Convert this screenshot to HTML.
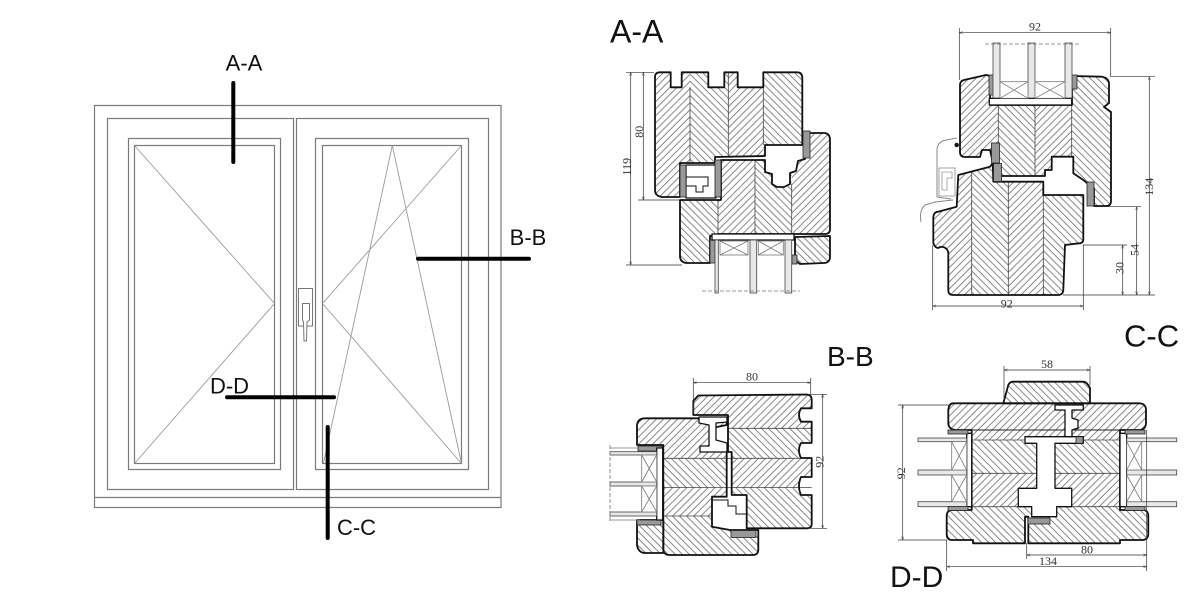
<!DOCTYPE html>
<html><head><meta charset="utf-8"><style>
html,body{margin:0;padding:0;background:#fff}
svg{display:block}
.o{fill:none;stroke:#111;stroke-width:1.8;stroke-linejoin:round}
.w{fill:#fff;stroke:#111;stroke-width:1.3;stroke-linejoin:round}
.lam{stroke:#444;stroke-width:0.8;fill:none}
.fr{fill:none;stroke:#7a7a7a;stroke-width:1.2}
.dg{fill:none;stroke:#9a9a9a;stroke-width:0.9}
.thk{stroke:#000;stroke-width:4;stroke-linecap:round}
.lb{font-family:"Liberation Sans",sans-serif;fill:#111}
.dm{stroke:#333;stroke-width:0.7;fill:none}
.dt{font-family:"Liberation Serif",serif;font-size:12px;fill:#333}
.gl{fill:#e8e8e8;stroke:#444;stroke-width:0.8}
.sp{fill:#fff;stroke:#777;stroke-width:0.8}
.sl{fill:#999;stroke:#222;stroke-width:0.8}
</style></head><body>
<svg width="1200" height="594" viewBox="0 0 1200 594" xmlns="http://www.w3.org/2000/svg">
<defs>
<pattern id="p1" patternUnits="userSpaceOnUse" width="5" height="5" patternTransform="rotate(45)"><rect width="5" height="5" fill="#fff"/><line x1="0.5" y1="0" x2="0.5" y2="5" stroke="#7a7a7a" stroke-width="0.9"/></pattern>
<pattern id="p2" patternUnits="userSpaceOnUse" width="5" height="5" patternTransform="rotate(-45)"><rect width="5" height="5" fill="#fff"/><line x1="0.5" y1="0" x2="0.5" y2="5" stroke="#7a7a7a" stroke-width="0.9"/></pattern>
<marker id="ar" viewBox="0 0 10 10" refX="10" refY="5" markerWidth="5" markerHeight="5" orient="auto-start-reverse"><path d="M0,1.5 L10,5 L0,8.5" fill="none" stroke="#333" stroke-width="1.2"/></marker>

<clipPath id="cAU"><path id="AU" d="M655,77 Q655,72.3 660,72.3 L670.7,72.3 L670.7,87.3 L681.7,87.3 L681.7,72.3 L708.3,72.3 L708.3,87.3 L724.3,87.3 L724.3,72.3 L737.7,72.3 L737.7,87.3 L763.3,87.3 L763.3,72.3 L797,72.3 Q802.3,72.3 802.3,78 L802.3,145 L765,145 L765,156 L715,157 L715,163 L680,163 L680,197 L662,197 Q655,196 655,190 Z"/></clipPath>
<clipPath id="cAS"><path id="AS" d="M680,200 L721,200 L721,160 L765,160 L765,172 L772,174 L772,184 L777,187 L784,187 L790,184 L790,173 L796,171 L798,161 L805,159 L805,140 Q806,133 812,133 L825,133 Q830,134 830,140 L830,229 Q830,234 825,234 L718,234 L710,236 L710,263 L686,263 Q680,262 680,256 Z"/></clipPath>
<clipPath id="cAB"><path id="AB" d="M795,237 L830,236 L830,258 Q829,263 824,263 L800,264 L795,260 Z"/></clipPath>

<clipPath id="cCS"><path id="CS" d="M960,85 Q960,81 964,80 L986,75 Q990,75 990,79 L990,105 L1072,105 L1072,76 L1102,76.7 Q1109,78 1109,84 L1109,103 L1104,107 L1111,112 L1111,201 Q1111,206 1106,206 L1094,206 L1094,188 L1087,183 L1083.3,180 L1073.3,173.3 L1073.3,156.7 L1051.7,156.7 L1051.7,170 L1045,170 L1045,176 L1000,176 L1000,165 L993,163 L990,150 L982,150 L980,157 L965,157 Q960,157 960,152 Z"/></clipPath>
<clipPath id="cCF"><path id="CF" d="M933.3,216.7 Q934,212 938,211.7 L956.7,206.7 L958.3,175 L990,166.7 L992.7,163.3 L993.3,181.7 L1043.3,181.7 L1043.3,195 L1083.3,195 L1083.3,240 Q1083,243.3 1079,243.3 L1065,245 L1063.3,290 Q1063,295 1058,295 L953,295 Q948.3,295 948.3,290 L948.3,252 Q946,246 940,247 Q936,250 933.3,243 Z"/></clipPath>

<clipPath id="cBF"><path id="BF" d="M693.3,401 L698.3,395.5 L807,394.5 Q811.7,395 811.7,400 L811.7,408.3 L801,408.3 Q797,415 801,421.7 L811.7,421.7 L811.7,443 L801,443 Q797,450 801,458 L811.7,458 L811.7,477 L801,477 Q797,486 801,495 L811.7,495 L811.7,524 Q811.7,528.3 807,528.3 L746.7,528.3 L746.7,495 L731.7,495 L731.7,452 L728,452 L728,415 L693.3,415 Z"/></clipPath>
<clipPath id="cBS"><path id="BS" d="M637,425 Q638,418.3 645,418.3 L726.7,418.3 L726.7,425 L712,428 L712,449 L726.7,449 L726.7,496.7 L712,496.7 L712,526.7 L730,530 L758.3,530 L758.3,550 Q758,555 753,555 L668,555 Q663.3,554 663.3,549 L663.3,445 L637,445 Z"/></clipPath>
<clipPath id="cBB"><path id="BB" d="M637,520 L663.3,520 L663.3,553 L644,553 Q638,552 637,545 Z"/></clipPath>

<clipPath id="cDB"><path id="DB" d="M953,403.3 L1140,403.3 Q1146,404 1146,410 L1146,424 Q1145,430 1139,430 L1120,430 L1120,510 L1144,510 Q1148.3,511 1148.3,516 L1148.3,534 Q1148,540 1142,540 L1120,540 L1120,543.3 L1028.3,543.3 L1028.3,516.7 L1025,516.7 L1025,543.3 L973,543.3 L973,540 L952,540 Q946.7,540 946.7,534 L946.7,516 Q947,510 952,510 L971.7,510 L971.7,430 L955,430 Q949,429 948.3,424 L948.3,410 Q949,403.3 953,403.3 Z"/></clipPath>
<clipPath id="cDC"><path id="DC" d="M1003.3,403.3 L1008.3,385 Q1010,381.7 1013,381.7 L1083,381.7 Q1087,381.7 1090,388 L1090,403.3 Z"/></clipPath>
</defs>

<!-- ============ LEFT WINDOW ELEVATION ============ -->
<rect x="94.5" y="105.5" width="406.5" height="402" class="fr"/>
<line x1="94.5" y1="497.5" x2="501" y2="497.5" class="fr"/>
<rect x="107.5" y="118.5" width="186" height="371" class="fr"/>
<rect x="296.5" y="118.5" width="192" height="371" class="fr"/>
<rect x="128.5" y="138.5" width="152" height="331" class="fr"/>
<rect x="134.5" y="145.5" width="140" height="318" class="fr"/>
<rect x="315.5" y="138.5" width="153" height="331" class="fr"/>
<rect x="322.5" y="145.5" width="139" height="318" class="fr"/>
<polyline points="134.5,145.5 274.5,303.5 134.5,463.5" class="dg"/>
<polyline points="461.5,145.5 322.5,303.5 461.5,463.5" class="dg"/>
<polyline points="323.5,463 392.3,145.5 461.5,463.5" class="dg"/>
<rect x="298.5" y="288.5" width="14" height="37.5" fill="#fff" stroke="#777" stroke-width="1"/>
<path d="M302.5,303.5 L309.5,303.5 L309.5,320 L307,322 L306.5,341 L304,341 L303.5,322 L302.5,320 Z" fill="#fff" stroke="#777" stroke-width="1"/>
<line x1="233.3" y1="83" x2="233.3" y2="162" class="thk"/>
<line x1="418" y1="258.7" x2="529" y2="258.7" class="thk"/>
<line x1="227" y1="397.3" x2="334" y2="397.3" class="thk"/>
<line x1="327.7" y1="427" x2="327.7" y2="538" class="thk"/>
<text x="244" y="70.5" font-size="22" text-anchor="middle" class="lb">A-A</text>
<text x="528" y="245" font-size="22" text-anchor="middle" class="lb">B-B</text>
<text x="229.5" y="393.5" font-size="22" text-anchor="middle" class="lb">D-D</text>
<text x="356.5" y="535" font-size="22" text-anchor="middle" class="lb">C-C</text>

<!-- ============ SECTION A-A ============ -->
<text x="610" y="42.5" font-size="32" class="lb">A-A</text>
<g clip-path="url(#cAU)">
<rect x="650" y="70" width="40" height="130" fill="url(#p1)"/>
<rect x="690" y="70" width="38.3" height="130" fill="url(#p2)"/>
<rect x="728.3" y="70" width="35" height="130" fill="url(#p1)"/>
<rect x="763.3" y="70" width="42" height="130" fill="url(#p2)"/>
</g>
<g clip-path="url(#cAS)">
<rect x="675" y="130" width="43" height="140" fill="url(#p2)"/>
<rect x="718" y="130" width="37" height="140" fill="url(#p1)"/>
<rect x="755" y="130" width="36.7" height="140" fill="url(#p2)"/>
<rect x="791.7" y="130" width="45" height="140" fill="url(#p1)"/>
</g>
<g clip-path="url(#cAB)"><rect x="790" y="230" width="45" height="40" fill="url(#p2)"/></g>
<line x1="690" y1="87" x2="690" y2="163" class="lam"/>
<line x1="728.3" y1="72" x2="728.3" y2="157" class="lam"/>
<line x1="763.3" y1="87" x2="763.3" y2="145" class="lam"/>
<line x1="718" y1="200" x2="718" y2="234" class="lam"/>
<line x1="755" y1="160" x2="755" y2="234" class="lam"/>
<line x1="791.7" y1="184" x2="791.7" y2="234" class="lam"/>
<use href="#AU" class="o"/>
<use href="#AS" class="o"/>
<use href="#AB" class="o"/>
<rect x="686" y="165" width="30" height="33" class="w" stroke-width="0.9"/>
<path d="M686,177 L708,177 L708,186 L703,186 L703,192 L696,192 L696,186 L686,186" fill="none" stroke="#111" stroke-width="1"/>
<rect x="680" y="165" width="6" height="32" class="sl"/>
<rect x="715" y="160" width="6" height="37" class="sl"/>
<rect x="803" y="131" width="7" height="27" class="sl"/>
<rect x="710" y="240" width="5" height="23" class="sl"/>
<rect x="792" y="255" width="5" height="9" class="sl"/>
<rect x="712" y="234" width="82" height="6" class="w" stroke-width="1"/>
<rect x="715" y="240" width="3.3" height="53" class="gl"/>
<rect x="750" y="240" width="6.7" height="53" class="gl"/>
<rect x="785" y="240" width="6.7" height="53" class="gl"/>
<rect x="720" y="241" width="28" height="14" class="sp"/>
<path d="M720,241 L748,255 M748,241 L720,255" class="sp"/>
<rect x="758.3" y="241" width="25" height="14" class="sp"/>
<path d="M758.3,241 L783.3,255 M783.3,241 L758.3,255" class="sp"/>
<line x1="702" y1="291" x2="800" y2="291" stroke="#777" stroke-width="0.8" stroke-dasharray="4,2"/>
<!-- dims A-A -->
<line x1="626" y1="72.3" x2="654" y2="72.3" class="dm"/>
<line x1="638" y1="200" x2="680" y2="200" class="dm"/>
<line x1="626" y1="265" x2="682" y2="265" class="dm"/>
<line x1="630.7" y1="72.3" x2="630.7" y2="265" class="dm" marker-start="url(#ar)" marker-end="url(#ar)"/>
<line x1="643.3" y1="72.3" x2="643.3" y2="200" class="dm" marker-start="url(#ar)" marker-end="url(#ar)"/>
<text transform="translate(630.5,166.7) rotate(-90)" text-anchor="middle" class="dt">119</text>
<text transform="translate(643,131.7) rotate(-90)" text-anchor="middle" class="dt">80</text>

<!-- ============ SECTION C-C ============ -->
<text x="1124" y="346.5" font-size="31" class="lb">C-C</text>
<g clip-path="url(#cCS)">
<rect x="955" y="70" width="43.3" height="140" fill="url(#p1)"/>
<rect x="998.3" y="70" width="36.7" height="140" fill="url(#p2)"/>
<rect x="1035" y="70" width="36.7" height="140" fill="url(#p1)"/>
<rect x="1071.7" y="70" width="45" height="140" fill="url(#p2)"/>
</g>
<g clip-path="url(#cCF)">
<rect x="928" y="160" width="43.7" height="140" fill="url(#p1)"/>
<rect x="971.7" y="160" width="36.6" height="140" fill="url(#p2)"/>
<rect x="1008.3" y="160" width="35" height="140" fill="url(#p1)"/>
<rect x="1043.3" y="160" width="45" height="140" fill="url(#p2)"/>
</g>
<line x1="998.3" y1="105" x2="998.3" y2="176" class="lam"/>
<line x1="1035" y1="105" x2="1035" y2="176" class="lam"/>
<line x1="1071.7" y1="105" x2="1071.7" y2="157" class="lam"/>
<line x1="971.7" y1="172" x2="971.7" y2="295" class="lam"/>
<line x1="1008.3" y1="181.7" x2="1008.3" y2="295" class="lam"/>
<line x1="1043.3" y1="195" x2="1043.3" y2="295" class="lam"/>
<use href="#CS" class="o"/>
<use href="#CF" class="o"/>
<rect x="989.3" y="98.3" width="82.4" height="6.7" class="w" stroke-width="1"/>
<rect x="989" y="75" width="5" height="20" class="sl"/>
<rect x="1072" y="75" width="5" height="14" class="sl"/>
<rect x="991.5" y="143" width="8" height="20" class="sl"/>
<rect x="993.5" y="163.5" width="8" height="18" class="sl"/>
<rect x="1087" y="182" width="7" height="24" class="sl"/>
<rect x="993" y="43" width="7" height="55" class="gl"/>
<rect x="1028" y="43" width="7" height="55" class="gl"/>
<rect x="1065" y="43" width="7" height="55" class="gl"/>
<rect x="1000" y="81.7" width="28" height="16.6" class="sp"/>
<path d="M1000,81.7 L1028,98.3 M1028,81.7 L1000,98.3" class="sp"/>
<rect x="1035" y="81.7" width="30" height="16.6" class="sp"/>
<path d="M1035,81.7 L1065,98.3 M1065,81.7 L1035,98.3" class="sp"/>
<line x1="985" y1="44" x2="1080" y2="44" stroke="#777" stroke-width="0.8" stroke-dasharray="4,2"/>
<path d="M956.7,138 L944,140.5 Q937,143 937,150 L937,197 L951,199 M921,222 Q919,210 925,205 L935,202 L953,200" fill="none" stroke="#888" stroke-width="1"/>
<rect x="939" y="168" width="16" height="28" fill="#fff" stroke="#999" stroke-width="0.9"/>
<path d="M942,172 L952,172 L952,178 L947,178 L947,190 L942,190 Z" fill="none" stroke="#999" stroke-width="0.8"/>
<circle cx="956.7" cy="145" r="2.2" fill="#111"/>
<!-- dims C-C -->
<line x1="959.3" y1="28" x2="959.3" y2="80" class="dm"/>
<line x1="1110.7" y1="28" x2="1110.7" y2="76" class="dm"/>
<line x1="959.3" y1="32.7" x2="1110.7" y2="32.7" class="dm" marker-start="url(#ar)" marker-end="url(#ar)"/>
<text x="1035" y="30.5" text-anchor="middle" class="dt">92</text>
<line x1="1110" y1="76.7" x2="1155" y2="76.7" class="dm"/>
<line x1="1094" y1="206.7" x2="1141" y2="206.7" class="dm"/>
<line x1="1083" y1="245" x2="1127" y2="245" class="dm"/>
<line x1="1063" y1="295" x2="1155" y2="295" class="dm"/>
<line x1="1149.3" y1="76.7" x2="1149.3" y2="295" class="dm" marker-start="url(#ar)" marker-end="url(#ar)"/>
<line x1="1136.7" y1="206.7" x2="1136.7" y2="295" class="dm" marker-start="url(#ar)" marker-end="url(#ar)"/>
<line x1="1122.7" y1="245" x2="1122.7" y2="295" class="dm" marker-start="url(#ar)" marker-end="url(#ar)"/>
<text transform="translate(1153,186.7) rotate(-90)" text-anchor="middle" class="dt">134</text>
<text transform="translate(1138.5,250) rotate(-90)" text-anchor="middle" class="dt">54</text>
<text transform="translate(1123.5,268) rotate(-90)" text-anchor="middle" class="dt">30</text>
<line x1="932.7" y1="245" x2="932.7" y2="310" class="dm"/>
<line x1="1083.3" y1="245" x2="1083.3" y2="310" class="dm"/>
<line x1="932.7" y1="306" x2="1083.3" y2="306" class="dm" marker-start="url(#ar)" marker-end="url(#ar)"/>
<text x="1006.7" y="307.5" text-anchor="middle" class="dt">92</text>

<!-- ============ SECTION B-B ============ -->
<text x="827" y="366" font-size="28" class="lb">B-B</text>
<g clip-path="url(#cBF)">
<rect x="690" y="390" width="125" height="38.3" fill="url(#p1)"/>
<rect x="690" y="428.3" width="125" height="30" fill="url(#p2)"/>
<rect x="690" y="458.3" width="125" height="30" fill="url(#p1)"/>
<rect x="690" y="488.3" width="125" height="45" fill="url(#p2)"/>
</g>
<g clip-path="url(#cBS)">
<rect x="630" y="412" width="135" height="46.3" fill="url(#p1)"/>
<rect x="630" y="458.3" width="135" height="30" fill="url(#p2)"/>
<rect x="630" y="488.3" width="135" height="27.7" fill="url(#p1)"/>
<rect x="630" y="516" width="135" height="45" fill="url(#p2)"/>
</g>
<g clip-path="url(#cBB)"><rect x="630" y="515" width="40" height="45" fill="url(#p2)"/></g>
<line x1="728" y1="428.3" x2="811.7" y2="428.3" class="lam"/>
<line x1="663.3" y1="458.3" x2="811.7" y2="458.3" class="lam"/>
<line x1="663.3" y1="487.5" x2="811.7" y2="487.5" class="lam"/>
<line x1="663.3" y1="516" x2="712" y2="516" class="lam"/>
<use href="#BF" class="o"/>
<use href="#BS" class="o"/>
<use href="#BB" class="o"/>
<path d="M699,417 L727,417 L727,422 L716,423 L716,440 L727,443 L727,452 L700,452 L700,446 L709,446 L709,425 L699,423 Z" class="w" stroke-width="1.1"/>
<path d="M712,500 L728,500 L728,506 L736,506 L736,514 L746.7,514" fill="none" stroke="#111" stroke-width="1"/>
<rect x="731" y="530.5" width="25" height="7" class="sl"/>
<rect x="638" y="446" width="24" height="5" class="sl"/>
<rect x="637" y="520" width="24" height="5" class="sl"/>
<rect x="656.7" y="448" width="6" height="72" class="w" stroke-width="0.9"/>
<rect x="610" y="451.7" width="46.7" height="3.3" class="gl"/>
<rect x="610" y="482" width="46.7" height="4" class="gl"/>
<rect x="610" y="512" width="46.7" height="4" class="gl"/>
<line x1="610" y1="448" x2="640" y2="448" stroke="#777" stroke-width="0.8"/>
<line x1="610" y1="520" x2="640" y2="520" stroke="#777" stroke-width="0.8"/>
<rect x="641.7" y="455" width="15" height="27" class="sp"/>
<path d="M641.7,455 L656.7,482 M656.7,455 L641.7,482" class="sp"/>
<rect x="641.7" y="486" width="15" height="26" class="sp"/>
<path d="M641.7,486 L656.7,512 M656.7,486 L641.7,512" class="sp"/>
<line x1="610" y1="445" x2="610" y2="522" stroke="#777" stroke-width="0.8" stroke-dasharray="4,2"/>
<!-- dims B-B -->
<line x1="693.3" y1="378" x2="693.3" y2="413" class="dm"/>
<line x1="810.7" y1="378" x2="810.7" y2="394" class="dm"/>
<line x1="693.3" y1="382.7" x2="810.7" y2="382.7" class="dm" marker-start="url(#ar)" marker-end="url(#ar)"/>
<text x="752" y="380.5" text-anchor="middle" class="dt">80</text>
<line x1="808" y1="394.3" x2="827" y2="394.3" class="dm"/>
<line x1="808" y1="528.3" x2="827" y2="528.3" class="dm"/>
<line x1="822.7" y1="394.3" x2="822.7" y2="528.3" class="dm" marker-start="url(#ar)" marker-end="url(#ar)"/>
<text transform="translate(823.5,461.7) rotate(-90)" text-anchor="middle" class="dt">92</text>

<!-- ============ SECTION D-D ============ -->
<text x="890" y="587" font-size="30" class="lb">D-D</text>
<g clip-path="url(#cDC)"><rect x="1000" y="378" width="95" height="30" fill="url(#p2)"/></g>
<g clip-path="url(#cDB)">
<rect x="940" y="400" width="215" height="40" fill="url(#p1)"/>
<rect x="940" y="440" width="215" height="33.3" fill="url(#p2)"/>
<rect x="940" y="473.3" width="215" height="33.4" fill="url(#p1)"/>
<rect x="940" y="506.7" width="215" height="40" fill="url(#p2)"/>
</g>
<line x1="971.7" y1="440" x2="1120" y2="440" class="lam"/>
<line x1="971.7" y1="473.3" x2="1120" y2="473.3" class="lam"/>
<line x1="971.7" y1="506.7" x2="1120" y2="506.7" class="lam"/>
<line x1="971.7" y1="430" x2="1120" y2="430" stroke="#222" stroke-width="0.9"/>
<use href="#DC" class="o"/>
<use href="#DB" class="o"/>
<path d="M1025,436.7 L1083.3,436.7 L1083.3,443.3 L1055,443.3 L1055,488.3 L1071.7,488.3 L1071.7,506.7 L1056.7,506.7 L1056.7,516.7 L1031.7,516.7 L1031.7,506.7 L1018.3,506.7 L1018.3,488.3 L1036.7,488.3 L1036.7,443.3 L1025,443.3 Z" class="w" stroke-width="1.5"/>
<path d="M1055,405 L1083.3,405 L1083.3,410 L1072,410 L1072,418 L1078,420 L1078,428 L1072,430 L1072,436.7 L1065,436.7 L1065,410 L1055,410 Z" class="w" stroke-width="1.1"/>
<rect x="1076" y="436.7" width="7" height="6.6" class="sl"/>
<rect x="1028" y="518" width="22" height="6" class="sl"/>
<rect x="966.7" y="433.3" width="5" height="73.4" class="w" stroke-width="0.9"/>
<rect x="1120" y="433.3" width="6.7" height="73.4" class="w" stroke-width="0.9"/>
<rect x="918" y="438" width="48.7" height="3.7" class="gl"/>
<rect x="918" y="470" width="48.7" height="5" class="gl"/>
<rect x="918" y="501.7" width="48.7" height="5" class="gl"/>
<rect x="951.7" y="441.7" width="15" height="28.3" class="sp"/>
<path d="M951.7,441.7 L966.7,470 M966.7,441.7 L951.7,470" class="sp"/>
<rect x="951.7" y="475" width="15" height="26.7" class="sp"/>
<path d="M951.7,475 L966.7,501.7 M966.7,475 L951.7,501.7" class="sp"/>
<rect x="1126.7" y="438" width="50" height="3.7" class="gl"/>
<rect x="1126.7" y="470" width="50" height="5" class="gl"/>
<rect x="1126.7" y="501.7" width="50" height="5" class="gl"/>
<rect x="1126.7" y="441.7" width="15" height="28.3" class="sp"/>
<path d="M1126.7,441.7 L1141.7,470 M1141.7,441.7 L1126.7,470" class="sp"/>
<rect x="1126.7" y="475" width="15" height="26.7" class="sp"/>
<path d="M1126.7,475 L1141.7,501.7 M1141.7,475 L1126.7,501.7" class="sp"/>
<rect x="948" y="430" width="20" height="4" class="sl"/>
<rect x="948" y="506.5" width="20" height="4" class="sl"/>
<rect x="1125" y="430" width="20" height="4" class="sl"/>
<rect x="1125" y="506.5" width="20" height="4" class="sl"/>
<!-- dims D-D -->
<line x1="1004" y1="366" x2="1004" y2="400" class="dm"/>
<line x1="1090" y1="366" x2="1090" y2="385" class="dm"/>
<line x1="1004" y1="370" x2="1090" y2="370" class="dm" marker-start="url(#ar)" marker-end="url(#ar)"/>
<text x="1047" y="368" text-anchor="middle" class="dt">58</text>
<line x1="898" y1="405" x2="950" y2="405" class="dm"/>
<line x1="898" y1="540" x2="947" y2="540" class="dm"/>
<line x1="902.7" y1="405" x2="902.7" y2="540" class="dm" marker-start="url(#ar)" marker-end="url(#ar)"/>
<text transform="translate(905,473.3) rotate(-90)" text-anchor="middle" class="dt">92</text>
<line x1="946.7" y1="540" x2="946.7" y2="571" class="dm"/>
<line x1="1026.7" y1="543" x2="1026.7" y2="559" class="dm"/>
<line x1="1146.7" y1="430" x2="1146.7" y2="571" class="dm"/>
<line x1="1026.7" y1="555" x2="1146.7" y2="555" class="dm" marker-start="url(#ar)" marker-end="url(#ar)"/>
<text x="1087" y="553.5" text-anchor="middle" class="dt">80</text>
<line x1="946.7" y1="566.7" x2="1146.7" y2="566.7" class="dm" marker-start="url(#ar)" marker-end="url(#ar)"/>
<text x="1048" y="565" text-anchor="middle" class="dt">134</text>
</svg>
</body></html>
